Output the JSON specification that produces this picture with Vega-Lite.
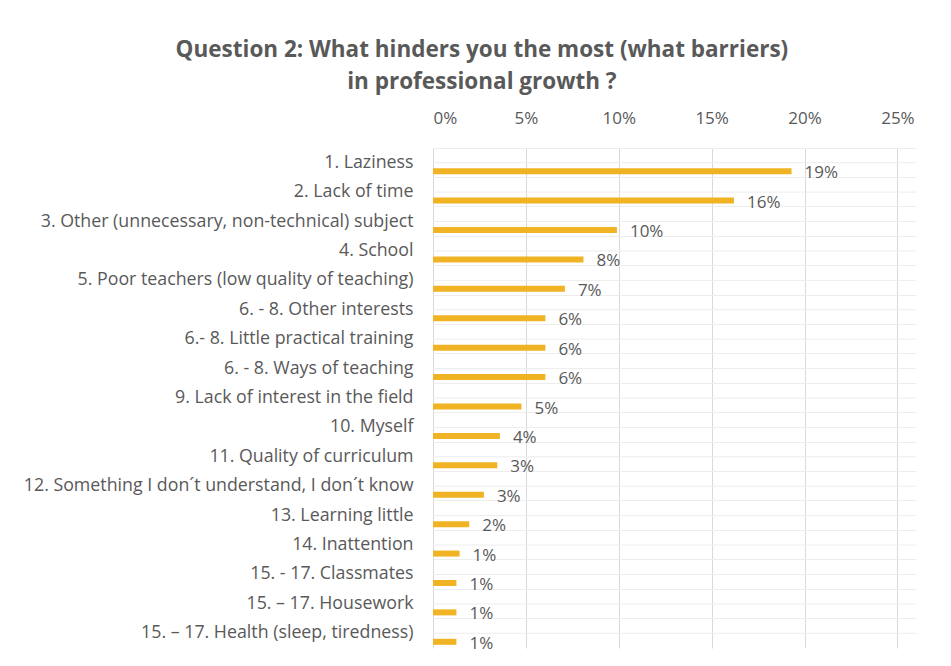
{
  "$schema": "https://vega.github.io/schema/vega-lite/v6.json",
  "autosize": "none",
  "width": 483,
  "height": 500,
  "padding": {"left": 433, "top": 148, "right": 35, "bottom": 18},
  "background": "white",
  "title": {
    "text": ["Question 2: What hinders you the most (what barriers)", "in professional growth ?"],
    "font": "Open Sans",
    "fontSize": 22.5,
    "fontWeight": "bold",
    "color": "#595959",
    "anchor": "middle",
    "frame": "bounds",
    "lineHeight": 32,
    "offset": 16,
    "dx": 12
  },
  "config": {
    "view": {"stroke": null},
    "axis": {"labelFont": "Open Sans", "labelColor": "#595959", "labelFontSize": 17.8}
  },
  "data": {
    "values": [
      {"order": 1, "label": "1. Laziness", "value": 0.193},
      {"order": 2, "label": "2. Lack of time ", "value": 0.162},
      {"order": 3, "label": "3. Other (unnecessary, non-technical) subject", "value": 0.099},
      {"order": 4, "label": "4. School", "value": 0.081},
      {"order": 5, "label": "5. Poor teachers (low quality of teaching)", "value": 0.071},
      {"order": 6, "label": "6. - 8. Other interests", "value": 0.0605},
      {"order": 7, "label": "6.- 8. Little practical training", "value": 0.0605},
      {"order": 8, "label": "6. - 8. Ways of teaching", "value": 0.0605},
      {"order": 9, "label": "9. Lack of interest in the field", "value": 0.0476},
      {"order": 10, "label": "10. Myself", "value": 0.036},
      {"order": 11, "label": "11. Quality of curriculum", "value": 0.0346},
      {"order": 12, "label": "12. Something I don´t understand, I don´t know", "value": 0.0274},
      {"order": 13, "label": "13. Learning little", "value": 0.0195},
      {"order": 14, "label": "14. Inattention", "value": 0.0143},
      {"order": 15, "label": "15. - 17. Classmates", "value": 0.0126},
      {"order": 16, "label": "15. – 17. Housework", "value": 0.0126},
      {"order": 17, "label": "15. – 17. Health (sleep, tiredness)", "value": 0.0126}
    ]
  },
  "encoding": {
    "y": {
      "field": "label",
      "type": "nominal",
      "sort": {"field": "order"},
      "title": null,
      "scale": {"paddingInner": 0, "paddingOuter": 0},
      "axis": {
        "domain": false,
        "ticks": false,
        "labelPadding": 20,
        "labelLimit": 430,
        "grid": true,
        "gridColor": "#ededed",
        "bandPosition": 0
      }
    }
  },
  "layer": [
    {
      "mark": {"type": "rule", "color": "#ededed", "strokeWidth": 1},
      "encoding": {}
    },
    {
      "mark": {"type": "bar", "color": "#F0B323", "height": 6, "yOffset": 8.5},
      "encoding": {
        "x": {
          "field": "value",
          "type": "quantitative",
          "scale": {"domain": [0, 0.25]},
          "title": null,
          "axis": {
            "orient": "top",
            "format": ".0%",
            "values": [0, 0.05, 0.1, 0.15, 0.2, 0.25],
            "domain": false,
            "ticks": false,
            "labelPadding": 21,
            "gridColor": "#d9d9d9",
            "labelFontSize": 17
          }
        }
      }
    },
    {
      "mark": {"type": "text", "align": "left", "baseline": "middle", "dx": 13, "yOffset": 10.5, "font": "Open Sans", "fontSize": 17, "color": "#595959"},
      "encoding": {
        "x": {"field": "value", "type": "quantitative"},
        "text": {"field": "value", "type": "quantitative", "format": ".0%"}
      }
    }
  ]
}
